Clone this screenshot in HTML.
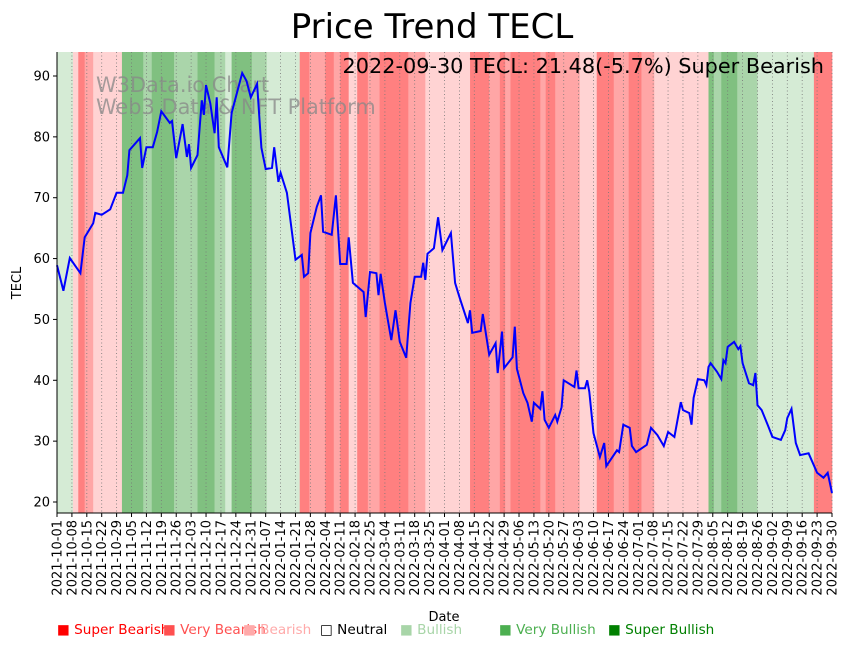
<!DOCTYPE html>
<html><head><meta charset="utf-8"><style>
body{margin:0;background:#fff;font-family:"Liberation Sans","DejaVu Sans",sans-serif}
svg text{font-family:"DejaVu Sans","Liberation Sans",sans-serif}
</style></head><body>
<svg id="chart" width="848" height="646" xmlns="http://www.w3.org/2000/svg">
<text x="432" y="38" font-size="34" text-anchor="middle" fill="#000">Price Trend TECL</text>
<g id="bands"></g>
<g id="grid"></g>
<g fill="#888" opacity="0.75" font-size="20.9">
<text x="96" y="92">W3Data.io Chart</text><text x="96" y="114">Web3 Data &amp; NFT Platform</text></g>
<path id="line" fill="none" stroke="#0000ff" stroke-width="2"/>
<text x="824" y="73" font-size="20.8" text-anchor="end" fill="#000">2022-09-30 TECL: 21.48(-5.7%) Super Bearish</text>
<g id="axes"></g>
<text transform="translate(21,283) rotate(-90)" font-size="13" text-anchor="middle">TECL</text>
<text x="444" y="621" font-size="13" text-anchor="middle">Date</text>
<g font-size="13.6">
<text x="57" y="634" fill="#ff0000">■ Super Bearish</text>
<text x="163" y="634" fill="#ff5050">■ Very Bearish</text>
<text x="243" y="634" fill="#ffaaaa">■ Bearish</text>
<text x="320" y="634" fill="#000">□ Neutral</text>
<text x="400" y="634" fill="#a8d5a8">■ Bullish</text>
<text x="499" y="634" fill="#4caf50">■ Very Bullish</text>
<text x="608" y="634" fill="#008000">■ Super Bullish</text>
</g>
</svg>
<script>
const days=[0,3,6,11,13,17,18,21,25,28,31,33,34,39,40,42,45,47,49,53,54,56,59,61,62,63,66,68,69,70,72,74,75,76,80,82,87,89,91,94,96,98,101,102,104,105,108,112,115,116,118,119,122,124,125,129,131,133,136,137,139,144,145,147,150,151,152,154,157,159,161,164,166,168,171,172,173,174,177,179,181,185,187,189,193,194,195,199,200,203,206,207,209,210,214,215,216,219,221,223,224,227,228,229,231,234,235,237,238,243,244,245,248,249,250,252,255,257,258,263,264,266,269,270,272,277,279,282,285,287,290,293,294,297,298,299,301,304,305,306,307,310,312,313,314,315,318,320,321,322,325,327,328,329,331,334,336,340,342,343,345,347,349,353,357,360,362,364];
const prices=[58.9,54.7,60.1,57.6,63.5,65.8,67.5,67.2,68.1,70.8,70.8,73.7,77.8,79.8,74.9,78.3,78.3,80.8,84.2,82.3,82.6,76.5,82.1,76.7,78.8,74.9,77,86,83.6,88.5,85.5,80.6,86.5,78.3,75,83.9,90.5,89.2,86.5,88.7,78.2,74.7,74.9,78.3,72.6,74.1,70.8,59.8,60.6,57,57.6,64.2,68.5,70.4,64.4,63.9,70.4,59.1,59.1,63.5,56,54.5,50.4,57.8,57.6,54,57.5,52.7,46.6,51.5,46.3,43.7,52.7,57,57,59.3,56.5,60.8,61.7,66.8,61.4,64.2,56,53.7,49.4,51.5,47.8,48.1,50.9,44.2,46.1,41.2,48,42,43.8,48.8,41.9,37.9,36.3,33.2,36.3,35.3,38.2,33.5,32.2,34.3,33.2,35.6,40,38.9,41.6,38.7,38.7,40,38.1,31.3,27.4,29.7,25.9,28.5,28.2,32.7,32.2,29.2,28.2,29.4,32.2,31,29.2,31.5,30.7,36.4,35.1,34.6,32.7,37.1,40.2,40,39.2,42.2,42.8,41.4,40.2,43.3,42.8,45.5,46.3,45.1,45.6,42.8,39.5,39.2,41.2,35.9,35.1,32.5,30.7,30.2,31.8,33.8,35.3,29.7,27.7,28,24.8,24,24.8,21.48];
const bandStarts=[0,7.5,10,13,17,30.5,40.5,44.5,55,66,74,79,82,91.5,98.5,114,118.5,126,130,133,137,141,146,151.5,165,173,194,203,208,210.5,213,227,229.5,234,245.5,253.5,261.5,268.5,274.5,280.5,306,308.5,312,319.5,329,355.5];
const bandLevels=[1,-1,-3,-2,-1,3,2,3,2,3,2,1,3,2,1,-3,-2,-3,-2,-3,-1,-3,-2,-3,-2,-1,-3,-2,-3,-2,-3,-2,-3,-2,-1,-3,-2,-3,-2,-1,3,2,3,2,1,-3];
const yTicks=[20,30,40,50,60,70,80,90];
const NS="http://www.w3.org/2000/svg";
const X0=57,X1=832,Y0=513,Ytop=52;
const xs=d=>X0+d*(X1-X0)/364;
const ys=v=>502-(v-20)*(502-76)/70;
const colors={"-3":"#ff8080","-2":"#ffa6a6","-1":"#ffd3d3","1":"#d5ebd5","2":"#aad5aa","3":"#80c080"};
const bands=document.getElementById('bands');
for(let i=0;i<bandStarts.length;i++){
  const a=bandStarts[i],b=i+1<bandStarts.length?bandStarts[i+1]:364;
  const r=document.createElementNS(NS,'rect');
  
  
  r.setAttribute('x',xs(a));r.setAttribute('width',xs(b)-xs(a)+0.3);
  r.setAttribute('y',Ytop);r.setAttribute('height',Y0-Ytop);
  r.setAttribute('fill',colors[bandLevels[i]]);
  bands.appendChild(r);
}
const grid=document.getElementById('grid'),axes=document.getElementById('axes');
const base=Date.UTC(2021,9,1);
for(let k=0;k<=52;k++){
  const d=k*7,x=xs(d);
  const l=document.createElementNS(NS,'line');
  
  
  l.setAttribute('x1',x);l.setAttribute('x2',x);l.setAttribute('y1',Ytop);l.setAttribute('y2',Y0);
  l.setAttribute('stroke','#777');l.setAttribute('stroke-width','0.8');l.setAttribute('stroke-dasharray','1,2.5');
  grid.appendChild(l);
  const t=document.createElementNS(NS,'line');
  
  
  t.setAttribute('x1',x);t.setAttribute('x2',x);t.setAttribute('y1',Y0);t.setAttribute('y2',Y0+4);t.setAttribute('stroke','#000');
  axes.appendChild(t);
  const s=new Date(base+d*86400000).toISOString().slice(0,10);
  const tx=document.createElementNS(NS,'text');
  
  
  tx.setAttribute('transform',`translate(${x+4.5},${Y0+7}) rotate(-90)`);
  tx.setAttribute('text-anchor','end');tx.setAttribute('font-size','13');
  tx.textContent=s;axes.appendChild(tx);
}
yTicks.forEach(v=>{
  const y=ys(v);
  const t=document.createElementNS(NS,'line');
  
  
  t.setAttribute('x1',X0-4);t.setAttribute('x2',X0);t.setAttribute('y1',y);t.setAttribute('y2',y);t.setAttribute('stroke','#000');
  axes.appendChild(t);
  const tx=document.createElementNS(NS,'text');
  
  
  tx.setAttribute('x',X0-7);tx.setAttribute('y',y+4.5);tx.setAttribute('text-anchor','end');tx.setAttribute('font-size','13');
  tx.textContent=v;axes.appendChild(tx);
});
const sp=document.createElementNS(NS,'path');


sp.setAttribute('d',`M${X0},${Ytop}V${Y0}H${X1}`);sp.setAttribute('stroke','#000');sp.setAttribute('fill','none');
axes.appendChild(sp);
document.getElementById('line').setAttribute('d',days.map((d,i)=>(i?'L':'M')+xs(d).toFixed(1)+','+ys(prices[i]).toFixed(1)).join(''));
</script>
</body></html>
